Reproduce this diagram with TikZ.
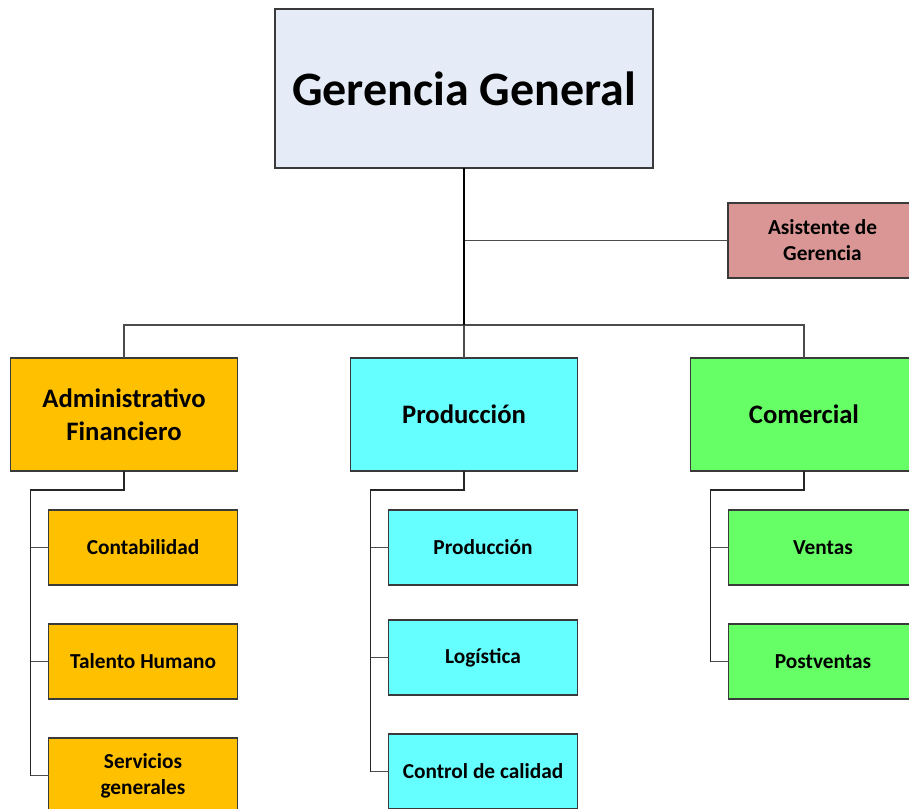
\documentclass[tikz,border=0pt]{standalone}
\usepackage{fontspec}
\setmainfont{Carlito}
\usetikzlibrary{positioning}
\definecolor{grisazul}{HTML}{E5ECF7}
\definecolor{rosa}{HTML}{D99694}
\definecolor{naranja}{HTML}{FFC000}
\definecolor{cian}{HTML}{66FFFF}
\definecolor{verde}{HTML}{66FF66}
\definecolor{borde}{HTML}{3A3A3A}
\begin{document}
\begin{tikzpicture}[node distance=29.25pt and 84.75pt, x=0.75pt, y=-0.75pt]
	\tikzstyle{jefe}=[draw=borde, line width=0.9pt, rectangle, outer sep=0pt, minimum width=283.5pt, minimum height=119.25pt, fill=grisazul, font=\bfseries\fontsize{36}{42}\selectfont]
	\tikzstyle{area}=[draw=borde, line width=0.9pt, rectangle, outer sep=0pt, minimum width=170.25pt, minimum height=84.75pt, align=center, font=\bfseries\fontsize{20}{24.5}\selectfont]
	\tikzstyle{sub}=[draw=borde, line width=0.9pt, rectangle, outer sep=0pt, minimum width=141.75pt, minimum height=56.25pt, align=center, font=\bfseries\fontsize{16}{19.5}\selectfont]
	\tikzstyle{tronco}=[line width=1.5pt, black]
	\tikzstyle{rama}=[line width=1.1pt, black!85]
	\tikzstyle{linea}=[line width=0.8pt, black!70]

	\useasboundingbox (0,0) rectangle (909,809);

	\node[jefe] (gg) at (464,88.5) {Gerencia General};
	\node[sub, fill=rosa] (asis) at (822.5,240.5) {Asistente de\\Gerencia};

	\node[area, fill=cian] (prod) [below=142.5pt of gg] {Producción};
	\node[area, fill=naranja] (adm) [left=of prod] {Administrativo\\Financiero};
	\node[area, fill=verde] (com) [right=of prod] {Comercial};

	\node[sub, fill=naranja] (cont) [below=of adm, xshift=14.25pt] {Contabilidad};
	\node[sub, fill=naranja] (talen) [below=of cont] {Talento Humano};
	\node[sub, fill=naranja] (serv) [below=of talen] {Servicios\\generales};

	\node[sub, fill=cian] (prodsub) [below=of prod, xshift=14.25pt] {Producción};
	\node[sub, fill=cian] (logi) [below=26.25pt of prodsub] {Logística};
	\node[sub, fill=cian] (calid) [below=of logi] {Control de calidad};

	\node[sub, fill=verde] (vent) [below=of com, xshift=14.25pt] {Ventas};
	\node[sub, fill=verde] (post) [below=of vent] {Postventas};

	\coordinate (bus) at (464,325);
	\draw[linea] (asis) -- (asis -| gg);
	\draw[linea] (bus) -| (adm);
	\draw[linea] (bus) -| (com);
	\draw[linea] (bus) -- (prod);
	\draw[tronco] (gg) -- (bus);

	\draw[rama] (adm.south) -- ++(0,19) -| ([xshift=-13.5pt]serv.west);
	\foreach \n in {cont,talen,serv}
		\draw[linea] ([xshift=-13.5pt]\n.west) -- (\n);

	\draw[rama] (prod.south) -- ++(0,19) -| ([xshift=-13.5pt]calid.west);
	\foreach \n in {prodsub,logi,calid}
		\draw[linea] ([xshift=-13.5pt]\n.west) -- (\n);

	\draw[rama] (com.south) -- ++(0,19) -| ([xshift=-13.5pt]post.west);
	\foreach \n in {vent,post}
		\draw[linea] ([xshift=-13.5pt]\n.west) -- (\n);
\end{tikzpicture}
\end{document}
